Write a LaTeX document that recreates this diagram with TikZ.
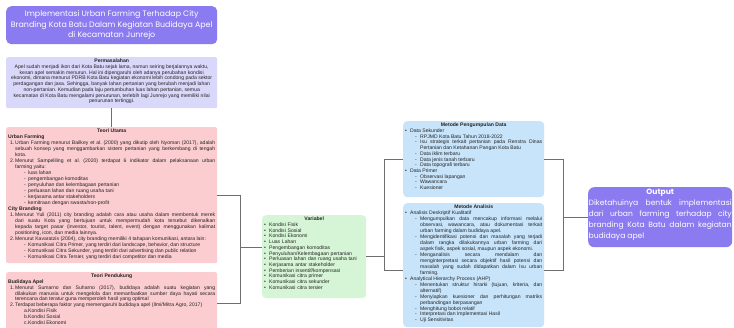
\documentclass[tikz,border=0pt]{standalone}
\usepackage{fontspec}
\setmainfont{Liberation Sans}
\newfontfamily\headfont{Poppins}
\usetikzlibrary{calc}
\frenchspacing
\definecolor{purp}{RGB}{139,123,240}
\definecolor{lav}{RGB}{218,216,250}
\definecolor{pinkbox}{RGB}{251,204,208}
\definecolor{greenbox}{RGB}{214,245,214}
\definecolor{bluebox}{RGB}{200,228,250}
\definecolor{ink}{RGB}{35,35,35}
\definecolor{linegray}{RGB}{110,110,110}
\newcommand\bodyfont{\fontsize{5.1}{5.7}\selectfont}
\newcommand\numit[2]{\par\noindent\hangindent=7pt\hangafter=1\hbox to 7pt{\hspace{2pt}#1\hfil}#2\par}
\newcommand\dashit[1]{\par\noindent\hangindent=20pt\hangafter=1\hbox to 20pt{\hspace{16pt}-\hfil}#1\par}
\newcommand\letit[2]{\par\noindent\hangindent=20pt\hangafter=1\hbox to 20pt{\hspace{16pt}#1\hfil}#2\par}
\newcommand\bulit[1]{\par\noindent\hangindent=5pt\hangafter=1\hbox to 5pt{\textbullet\hfil}#1\par}
\newcommand\subdash[1]{\par\noindent\hangindent=15pt\hangafter=1\hbox to 15pt{\hspace{10pt}-\hfil}#1\par}
\newcommand\boxhead[1]{\centerline{\bfseries #1}}
\begin{document}
\begin{tikzpicture}[x=1pt,y=-1pt,
  box/.style={rectangle, inner sep=0pt, anchor=north west},
  txt/.style={anchor=north west, inner sep=0pt, font=\bodyfont\frenchspacing, text=ink, align=justify},
  conn/.style={draw=linegray, line width=0.6pt}]
\useasboundingbox (0,0) rectangle (734,328);
\clip (0,0) rectangle (734,328);
\fill[white] (0,0) rectangle (734,328);

% title
\node[box, fill=purp, rounded corners=5pt, minimum width=211, minimum height=38,
  font=\headfont\fontsize{7.9}{10.6}\selectfont, text=white, align=center] (title) at (6,6)
  {Implementasi Urban Farming Terhadap City\\Branding Kota Batu Dalam Kegiatan Budidaya Apel\\di Kecamatan Junrejo};

% Permasalahan
\node[box, fill=lav, rounded corners=2pt, minimum width=211, minimum height=51] (perm) at (6,57) {};
\node[anchor=north, inner sep=0pt, font=\fontsize{5.1}{5.7}\selectfont, text=ink, align=center] (permtxt) at ($(perm.north)+(0,2)$)
  {\textbf{Permasalahan}\\
  Apel sudah menjadi ikon dari Kota Batu sejak lama, namun seiring berjalannya waktu,\\
  kesan apel semakin menurun. Hal ini dipengaruhi oleh adanya perubahan kondisi\\
  ekonomi, dimana menurut PDRB Kota Batu kegiatan ekonomi lebih condong pada sektor\\
  perdagangan dan jasa. Sehingga, banyak lahan pertanian yang berubah menjadi lahan\\
  non-pertanian. Kemudian pada laju pertumbuhan luas lahan pertanian, semua\\
  kecamatan di Kota Batu mengalami penurunan, terlebih lagi Junrejo yang memiliki nilai\\
  penurunan tertinggi.};

% Teori Utama
\node[box, fill=pinkbox, rounded corners=2pt, minimum width=211, minimum height=136] (tu) at (6,127) {};
\node[txt, text width=207, font=\fontsize{5.1}{6.0}\selectfont\frenchspacing] (tutxt) at ($(tu.north west)+(2,1.5)$) {%
  \boxhead{Teori Utama}
  \noindent\textbf{Urban Farming}\par
  \numit{1.}{Urban Farming menurut Bailkey et al.\ (2000) yang dikutip oleh Nyoman (2017), adalah\linebreak
    sebuah konsep yang menggambarkan sistem pertanian yang berkembang di tengah\linebreak kota.}
  \numit{2.}{Menurut Sampeliling et al.\ (2020) terdapat 6 indikator dalam pelaksanaan urban\linebreak farming yaitu:}
  \dashit{luas lahan}
  \dashit{pengembangan komoditas}
  \dashit{penyuluhan dan kelembagaan pertanian}
  \dashit{perluasan lahan dan ruang usaha tani}
  \dashit{kerjasama antar stakeholders}
  \dashit{kemitraan dengan swasta/non-profit}
  \noindent\textbf{City Branding}\par
  \numit{1.}{Menurut Yuli (2011) city branding adalah cara atau usaha dalam membentuk merek\linebreak
    dari suatu Kota yang bertujuan untuk mempermudah kota tersebut dikenalkan\linebreak
    kepada target pasar (investor, tourist, talent, event) dengan menggunakan kalimat\linebreak
    positioning, icon, dan media lainnya.}
  \numit{2.}{Menurut Kavaratzis (2004), city branding memiliki 4 tahapan komunikasi, antara lain:}
  \dashit{Komunikasi Citra Primer, yang terdiri dari landscape, behavior, dan structure}
  \dashit{Komunikasi Citra Sekunder, yang terdiri dari advertising dan public relation}
  \dashit{Komunikasi Citra Tersier, yang terdiri dari competitor dan media}};

% Teori Pendukung
\node[box, fill=pinkbox, rounded corners=2pt, minimum width=211, minimum height=62] (tp) at (6,272) {};
\node[txt, text width=207, font=\fontsize{5.1}{5.9}\selectfont\frenchspacing] (tptxt) at ($(tp.north west)+(2,1.5)$) {%
  \boxhead{Teori Pendukung}
  \noindent\textbf{Budidaya Apel}\par
  \numit{1.}{Menurut Sumarno dan Suharno (2017), budidaya adalah suatu kegiatan yang\linebreak
    dilakukan manusia untuk mengelola dan memanfaatkan sumber daya hayati secara\linebreak
    terencana dan teratur guna memperoleh hasil yang optimal}
  \numit{2.}{Terdapat beberapa faktor yang memengaruhi budidaya apel (Ilmi/Mitra Agro, 2017)}
  \letit{a.}{Kondisi Fisik}
  \letit{b.}{Kondisi Sosial}
  \letit{c.}{Kondisi Ekonomi}};

% Variabel
\node[box, fill=greenbox, rounded corners=4pt, minimum width=104, minimum height=83] (var) at (262,215) {};
\node[txt, text width=100, align=left] (vartxt) at ($(var.north west)+(2,2)$) {%
  \boxhead{Variabel}
  \bulit{Kondisi Fisik}
  \bulit{Kondisi Sosial}
  \bulit{Kondisi Ekonomi}
  \bulit{Luas Lahan}
  \bulit{Pengembangan komoditas}
  \bulit{Penyuluhan/Kelembagaan pertanian}
  \bulit{Perluasan lahan dan ruang usaha tani}
  \bulit{Kerjasama antar stakeholder}
  \bulit{Pemberian insentif/kompensasi}
  \bulit{Komunikasi citra primer}
  \bulit{Komunikasi citra sekunder}
  \bulit{Komunikasi citra tersier}};

% Metode Pengumpulan Data
\node[box, fill=bluebox, rounded corners=4pt, minimum width=141, minimum height=76] (mpd) at (403,121) {};
\node[txt, text width=137] (mpdtxt) at ($(mpd.north west)+(2,2)$) {%
  \boxhead{Metode Pengumpulan Data}
  \bulit{Data Sekunder}
  \subdash{RPJMD Kota Batu Tahun 2018-2022}
  \subdash{Isu strategis terkait pertanian pada Renstra Dinas\linebreak Pertanian dan Ketahanan Pangan Kota Batu}
  \subdash{Data iklim terbaru}
  \subdash{Data jenis tanah terbaru}
  \subdash{Data topografi terbaru}
  \bulit{Data Primer}
  \subdash{Observasi lapangan}
  \subdash{Wawancara}
  \subdash{Kuesioner}};

% Metode Analisis
\node[box, fill=bluebox, rounded corners=4pt, minimum width=141, minimum height=124] (ma) at (403,203) {};
\node[txt, text width=137, font=\fontsize{5.1}{5.95}\selectfont\frenchspacing] (matxt) at ($(ma.north west)+(2,2)$) {%
  \boxhead{Metode Analisis}
  \bulit{Analisis Deskriptif Kualitatif}
  \subdash{Mengumpulkan data mencakup informasi melalui\linebreak observasi, wawancara, atau dokumentasi terkait\linebreak urban farming dalam budidaya apel.}
  \subdash{Mengidentifikasi potensi dan masalah yang terjadi\linebreak dalam rangka dilakukannya urban farming dari\linebreak aspek fisik, aspek sosial, maupun aspek ekonomi.}
  \subdash{Menganalisis secara mendalam dan\linebreak menginterpretasi secara objektif hasil potensi dan\linebreak masalah yang sudah didapatkan dalam Isu urban\linebreak farming.}
  \bulit{Analytical Hierarchy Process (AHP)}
  \subdash{Menentukan struktur hirarki (tujuan, kriteria, dan\linebreak alternatif)}
  \subdash{Menyiapkan kuesioner dan perhitungan matriks\linebreak perbandingan berpasangan}
  \subdash{Menghitung bobot relatif}
  \subdash{Interpretasi dan Implementasi Hasil}
  \subdash{Uji Sensitivitas}};

% Output
\node[box, fill=purp, rounded corners=6pt, minimum width=144, minimum height=60] (out) at (588,187) {};
\node[anchor=north west, inner sep=0pt, text width=143, align=justify, text=white,
  font=\headfont\fontsize{7.6}{11.2}\selectfont] (outtxt) at ($(out.north west)+(0.5,1.5)$) {%
  \centerline{\bfseries Output}
  Diketahuinya bentuk implementasi\linebreak dari urban farming terhadap city\linebreak branding Kota Batu dalam kegiatan\linebreak budidaya apel};

% connectors
\coordinate (lv) at (240,247);
\coordinate (rv) at (384,256);
\coordinate (ov) at (563,217);
\coordinate (maw) at ($(ma.west)+(0,5)$);
\coordinate (mae) at ($(ma.east)+(0,5)$);
\draw[conn] (perm.south) -- (tu.north);
\draw[conn] (tu.east) -- (tu.east -| lv) -- (tp.east -| lv) -- (tp.east);
\draw[conn] (lv) -- (lv -| var.west);
\draw[conn] (var.east) -- (var.east -| rv);
\draw[conn] (mpd.west) -- (mpd.west -| rv) -- (maw -| rv) -- (maw);
\draw[conn] (mpd.east) -- (mpd.east -| ov) -- (mae -| ov) -- (mae);
\draw[conn] (out.west -| ov) -- (out.west);
\end{tikzpicture}
\end{document}
